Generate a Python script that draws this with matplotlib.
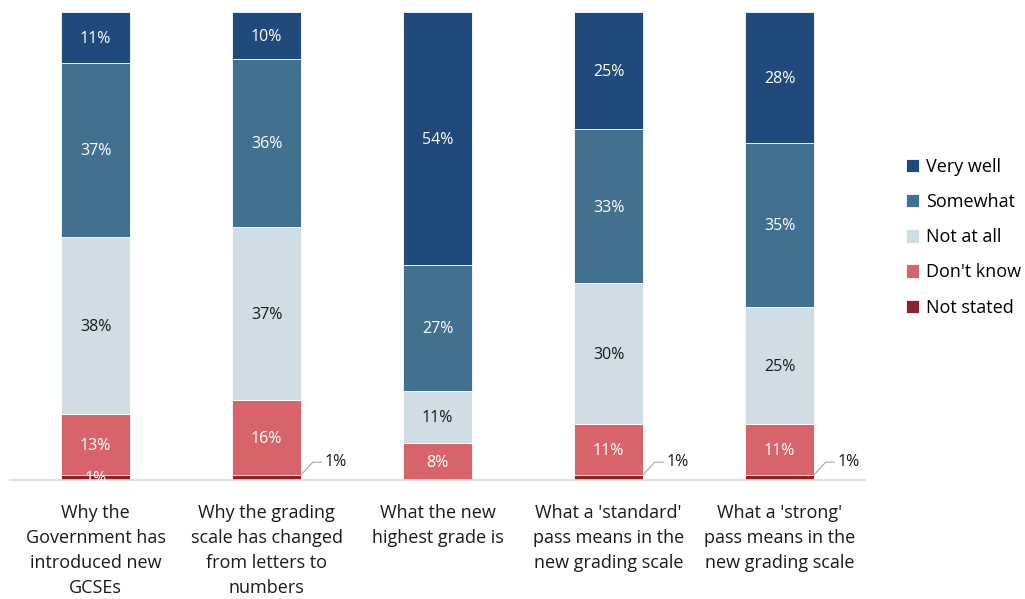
import numpy as np
import matplotlib
matplotlib.use("Agg")
import matplotlib.pyplot as plt

plt.rcParams["font.family"] = ["Open Sans", "DejaVu Sans"]

categories = [
    "Why the\nGovernment has\nintroduced new\nGCSEs",
    "Why the grading\nscale has changed\nfrom letters to\nnumbers",
    "What the new\nhighest grade is",
    "What a 'standard'\npass means in the\nnew grading scale",
    "What a 'strong'\npass means in the\nnew grading scale",
]
# stacked bottom -> top
series = ["Not stated", "Don't know", "Not at all", "Somewhat", "Very well"]
not_stated = [1, 1, 0, 1, 1]
dont_know = [13, 16, 8, 11, 11]
not_at_all = [38, 37, 11, 30, 25]
somewhat = [37, 36, 27, 33, 35]
very_well = [11, 10, 54, 25, 28]

values = [not_stated, dont_know, not_at_all, somewhat, very_well]
colors = ["#8B2428", "#D9636A", "#D0DDE5", "#41718F", "#1F4A7B"]
text_colors = ["white", "white", "#1a1a1a", "white", "white"]

fig = plt.figure(figsize=(10.25, 5.99), dpi=100)
ax = fig.add_axes([0.0098, 0.1987, 0.8341, 0.7813])

x = np.arange(len(categories))
bottom = np.zeros(len(categories))
handles = []
for s, vals, c, tc in zip(series, values, colors, text_colors):
    vals = np.array(vals, dtype=float)
    h = ax.bar(x, vals, 0.4, bottom=bottom, color=c, edgecolor="white",
               linewidth=0.6, label=s)
    handles.append(h)
    for i, v in enumerate(vals):
        if v <= 0:
            continue
        if s == "Not stated" and i > 0:
            # outside label with leader line
            x0 = x[i] + 0.2
            y0 = bottom[i] + v
            ax.plot([x0, x0 + 0.07, x0 + 0.12], [y0, y0 + 2.8, y0 + 2.8],
                    color="#a6a6a6", lw=0.8)
            ax.text(x0 + 0.14, y0 + 2.8, f"{v:.0f}%", ha="left", va="center",
                    fontsize=11.5, color="#1a1a1a")
        else:
            ax.text(x[i], bottom[i] + v / 2 - 0.3, f"{v:.0f}%", ha="center",
                    va="center", fontsize=11.5, color=tc)
    bottom += vals

ax.set_xlim(-0.5, 4.5)
ax.set_ylim(0, 100)
for sp in ["top", "right", "left"]:
    ax.spines[sp].set_visible(False)
ax.spines["bottom"].set_color("#d9d9d9")
ax.spines["bottom"].set_linewidth(1.2)
ax.set_yticks([])
ax.set_xticks(x)
ax.set_xticklabels(categories, fontsize=13, color="#1a1a1a", linespacing=1.5)
ax.tick_params(axis="x", length=0, pad=17)

leg = fig.legend(handles[::-1], series[::-1], loc="center left",
                 bbox_to_anchor=(0.868, 0.604), frameon=False, fontsize=13,
                 handlelength=0.75, handleheight=0.75, handletextpad=0.35,
                 labelspacing=0.95)

fig.savefig("out.png", dpi=100)
